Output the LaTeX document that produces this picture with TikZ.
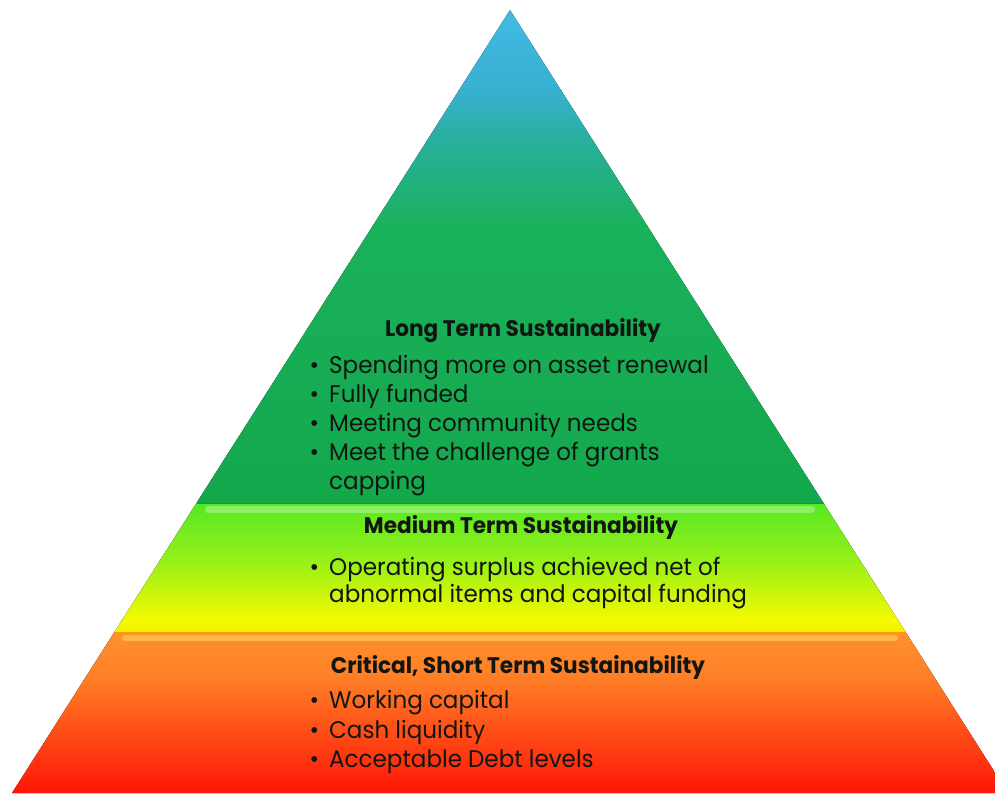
\documentclass[tikz,border=0pt]{standalone}
\usepackage{fontspec}
\setmainfont{Poppins}[FakeStretch=0.96]
\definecolor{txt}{RGB}{18,22,18}
\definecolor{ta}{RGB}{66,186,228}
\definecolor{tb}{RGB}{56,176,208}
\definecolor{tc}{RGB}{40,176,158}
\definecolor{td}{RGB}{26,177,92}
\definecolor{te}{RGB}{20,168,76}
\definecolor{ma}{RGB}{85,232,35}
\definecolor{mb}{RGB}{150,240,25}
\definecolor{mc}{RGB}{245,250,0}
\definecolor{md}{RGB}{240,238,0}
\definecolor{ba}{RGB}{255,145,45}
\definecolor{bb}{RGB}{255,125,38}
\definecolor{bc}{RGB}{255,20,5}
\newcommand{\band}[4]{\fill[top color=#3,bottom color=#4] (0,#1) rectangle (995,#2);}
\newcommand{\bul}{\makebox[0pt][r]{\textbullet\hspace{10pt}}}
\tikzset{
  body/.style={anchor=base west, inner sep=0pt, font=\fontsize{24}{29}\selectfont, text=txt},
  ttl/.style={anchor=base, inner sep=0pt, font=\bfseries\fontsize{22.5}{26}\selectfont, text=txt}
}
\begin{document}
\begin{tikzpicture}[x=1pt,y=-1pt]
\useasboundingbox (0,0) rectangle (995,793);
\coordinate (apex) at (510,10);
\coordinate (l1) at (196.5,503);
\coordinate (r1) at (823.5,503);
\coordinate (l2) at (114.4,632);
\coordinate (r2) at (905.6,632);
\coordinate (bl) at (12,793);
\coordinate (br) at (1008,793);
% top layer
\begin{scope}
\clip (apex) -- (r1) -- (l1) -- cycle;
\band{9}{90.5}{ta}{tb}
\band{90}{140.5}{tb}{tc}
\band{140}{225.5}{tc}{td}
\band{225}{504}{td}{te}
\end{scope}
% medium layer
\begin{scope}
\clip (l1) -- (r1) -- (r2) -- (l2) -- cycle;
\band{502}{560.5}{ma}{mb}
\band{560}{620.5}{mb}{mc}
\band{620}{633}{mc}{md}
\fill[white,opacity=0.3,rounded corners=3pt] (205,506) rectangle (815,513);
\draw[black!10!te,line width=1.2pt] (l1) -- (r1);
\end{scope}
% bottom layer
\begin{scope}
\clip (l2) -- (r2) -- (br) -- (bl) -- cycle;
\band{631}{680.5}{ba}{bb}
\band{680}{794}{bb}{bc}
\fill[yellow!60!white,opacity=0.4,rounded corners=3pt] (122,635) rectangle (898,641);
\draw[orange!80!yellow,line width=1.2pt] (l2) -- (r2);
\end{scope}
% texts
\node[ttl] (t1) at (523,336) {Long Term Sustainability};
\node[body] (a1) at (329,373) {\bul Spending more on asset renewal};
\node[body] (a2) at (329,402) {\bul Fully funded};
\node[body] (a3) at (329,431) {\bul Meeting community needs};
\node[body] (a4) at (329,460) {\bul Meet the challenge of grants};
\node[body] (a5) at (329,489) {capping};
\node[ttl] (t2) at (521,533) {Medium Term Sustainability};
\node[body] (b1) at (329,575) {\bul Operating surplus achieved net of};
\node[body] (b2) at (329,602) {abnormal items and capital funding};
\node[ttl] (t3) at (518,673) {Critical, Short Term Sustainability};
\node[body] (c1) at (329,708) {\bul Working capital};
\node[body] (c2) at (329,738) {\bul Cash liquidity};
\node[body] (c3) at (329,767) {\bul Acceptable Debt levels};
\end{tikzpicture}
\end{document}
